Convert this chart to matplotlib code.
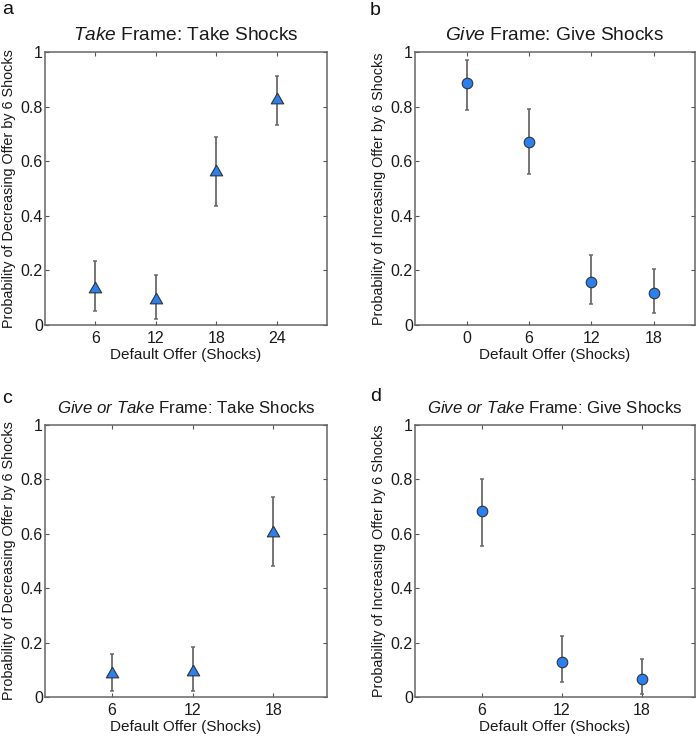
import matplotlib
matplotlib.use("Agg")
import matplotlib.pyplot as plt
import numpy as np

plt.rcParams['font.family'] = ['Liberation Sans', 'DejaVu Sans']
plt.rcParams['mathtext.fontset'] = 'custom'
plt.rcParams['mathtext.rm'] = 'Liberation Sans'
plt.rcParams['mathtext.it'] = 'Liberation Sans:italic'

# ---- data ----
a_x = [6, 12, 18, 24]
a_y = [0.14, 0.098, 0.567, 0.832]
a_lo = [0.052, 0.021, 0.435, 0.733]
a_hi = [0.234, 0.182, 0.690, 0.912]

b_x = [0, 6, 12, 18]
b_y = [0.885, 0.671, 0.159, 0.119]
b_lo = [0.788, 0.554, 0.076, 0.043]
b_hi = [0.969, 0.790, 0.255, 0.204]

c_x = [6, 12, 18]
c_y = [0.091, 0.100, 0.611]
c_lo = [0.023, 0.021, 0.480]
c_hi = [0.159, 0.182, 0.737]

d_x = [6, 12, 18]
d_y = [0.683, 0.130, 0.065]
d_lo = [0.556, 0.055, 0.011]
d_hi = [0.800, 0.225, 0.140]

y_ticks = [0, 0.2, 0.4, 0.6, 0.8, 1]
y_ticklabels = ['0', '0.2', '0.4', '0.6', '0.8', '1']

titles = [r"$\mathit{Take}$ Frame: Take Shocks",
          r"$\mathit{Give}$ Frame: Give Shocks",
          r"$\mathit{Give\ or\ Take}$ Frame: Take Shocks",
          r"$\mathit{Give\ or\ Take}$ Frame: Give Shocks"]
ylabels = ["Probability of Decreasing Offer by 6 Shocks",
           "Probability of Increasing Offer by 6 Shocks",
           "Probability of Decreasing Offer by 6 Shocks",
           "Probability of Increasing Offer by 6 Shocks"]
xlabel = "Default Offer (Shocks)"
letters = ['a', 'b', 'c', 'd']

W, H = 697, 737
fig = plt.figure(figsize=(W / 100, H / 100), dpi=100)

def px_axes(l, r, t, b):
    return fig.add_axes([l / W, 1 - b / H, (r - l) / W, (b - t) / H])

# equilateral triangle marker, bounding-box centred
tri = [(0, 0.866), (-1, -0.866), (1, -0.866), (0, 0.866)]

panels = [
    dict(rect=(45, 327, 52, 325), x=a_x, y=a_y, lo=a_lo, hi=a_hi, xlim=(1, 29), m=tri, ms=8.9,
         letter_pos=(2, 14), tsize=13.8),
    dict(rect=(415, 695, 52, 325), x=b_x, y=b_y, lo=b_lo, hi=b_hi, xlim=(-5, 22), m='o', ms=7.6,
         letter_pos=(370, 15), tsize=13.8),
    dict(rect=(45, 327, 425, 697), x=c_x, y=c_y, lo=c_lo, hi=c_hi, xlim=(1, 22), m=tri, ms=8.9,
         letter_pos=(2, 403), tsize=12.2),
    dict(rect=(415, 695, 425, 697), x=d_x, y=d_y, lo=d_lo, hi=d_hi, xlim=(1, 22), m='o', ms=7.6,
         letter_pos=(370, 401), tsize=12.2),
]

for i, p in enumerate(panels):
    ax = px_axes(*p['rect'])
    y = np.array(p['y'])
    lo = np.array(p['lo'])
    hi = np.array(p['hi'])
    ax.errorbar(p['x'], y, yerr=[y - lo, hi - y], fmt='none', ecolor='#6a6a6a',
                elinewidth=1.3, capsize=1.5, capthick=1.1, zorder=2)
    ax.plot(p['x'], y, linestyle='none', marker=p['m'], markersize=p['ms'],
            markerfacecolor='#2B80F0', markeredgecolor='#333333', markeredgewidth=0.8, zorder=3)
    ax.set_xlim(*p['xlim'])
    ax.set_ylim(0, 1)
    ax.set_xticks(p['x'])
    ax.set_xticklabels([str(v) for v in p['x']])
    ax.set_yticks(y_ticks)
    ax.set_yticklabels(y_ticklabels)
    ax.tick_params(direction='in', length=3, width=0.8, colors='#555555', labelcolor='#1a1a1a',
                   labelsize=11.5, top=True, right=True)
    ax.tick_params(axis='y', pad=1.5)
    ax.tick_params(axis='x', pad=4.5)
    for s in ax.spines.values():
        s.set_color('#666666')
        s.set_linewidth(1.1)
    ax.set_xlabel(xlabel, fontsize=11, color='#1a1a1a', labelpad=1)
    ax.set_ylabel(ylabels[i], fontsize=10.4, color='#1a1a1a', labelpad=3)
    ax.set_title(titles[i], fontsize=p['tsize'], color='#1a1a1a', pad=9)
    lx, ly = p['letter_pos']
    fig.text(lx / W, 1 - ly / H, letters[i], fontsize=14, color='#111111', ha='left', va='baseline')

fig.savefig('out.png', dpi=100)
